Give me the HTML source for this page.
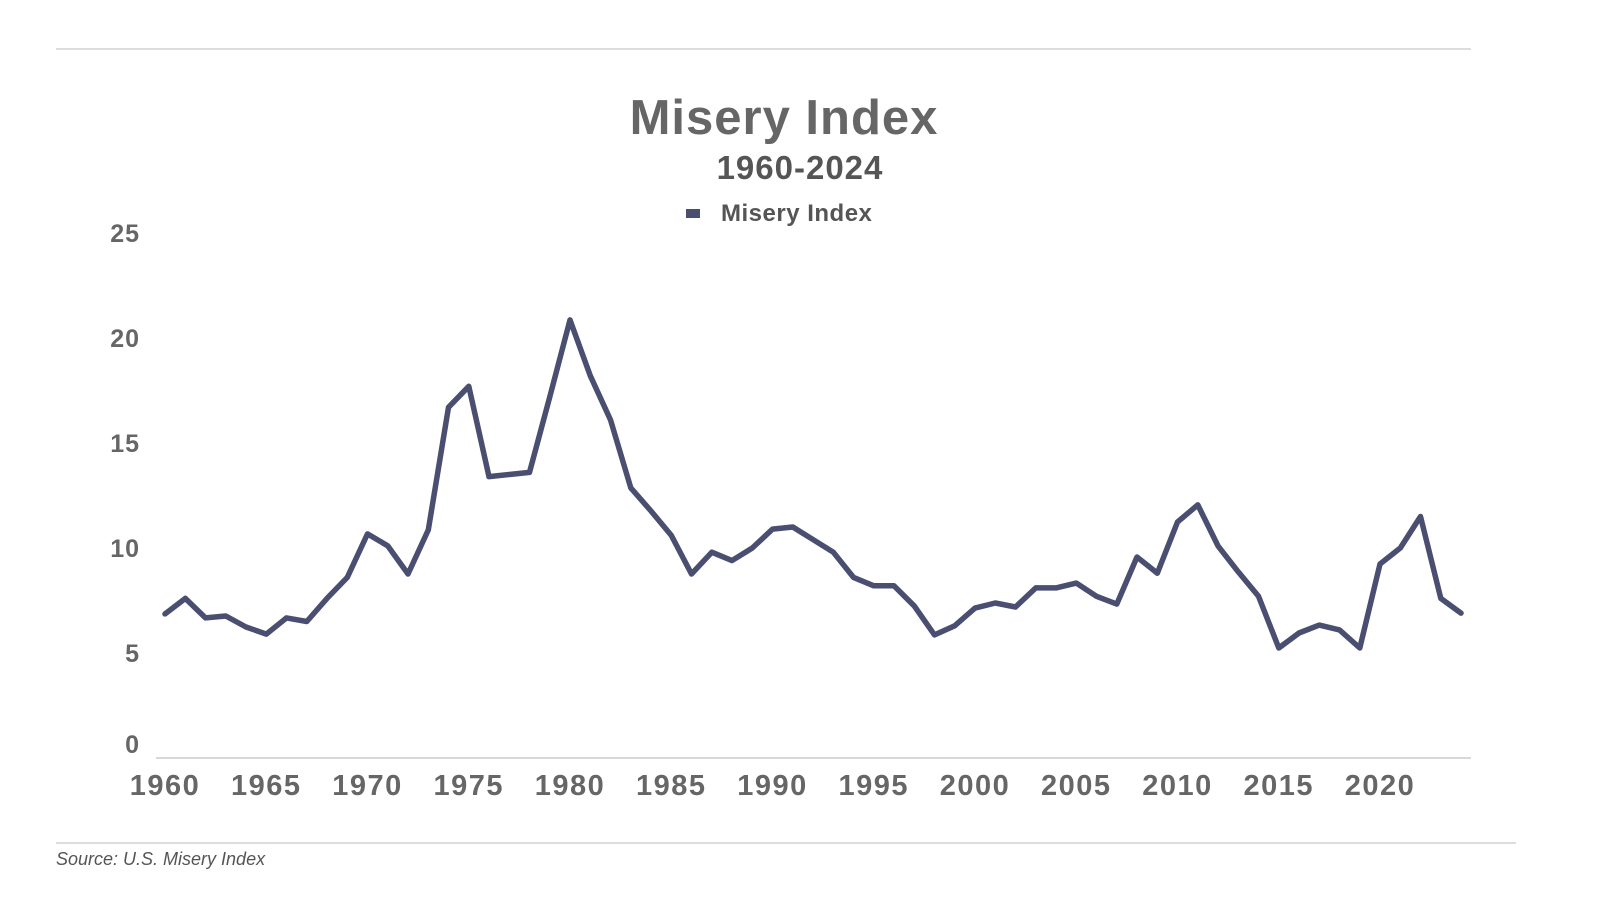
<!DOCTYPE html>
<html><head><meta charset="utf-8"><style>
body{margin:0;background:#fff;}
svg{display:block;font-family:"Liberation Sans",sans-serif;}
</style></head><body>
<svg width="1600" height="900" viewBox="0 0 1600 900">
<line x1="56" y1="49" x2="1471" y2="49" stroke="#bbb" stroke-width="1"/>
<text x="784" y="134" text-anchor="middle" font-size="49" font-weight="bold" letter-spacing="1" fill="#666">Misery Index</text>
<text x="800" y="179" text-anchor="middle" font-size="33" font-weight="bold" letter-spacing="1" fill="#555">1960-2024</text>
<g>
<rect x="686" y="209" width="14" height="9" fill="#4a4e70"/>
<text x="721" y="221" font-size="24" font-weight="bold" letter-spacing="0.5" fill="#555">Misery Index</text>
</g>
<g id="yaxis"></g>
<g id="xaxis"></g>
<line x1="156" y1="758" x2="1471" y2="758" stroke="#ccc" stroke-width="1.5"/>
<path id="series" fill="none" stroke="#4a4e70" stroke-width="5.5" stroke-linejoin="round" stroke-linecap="round"/>
<line x1="56" y1="843" x2="1516" y2="843" stroke="#bbb" stroke-width="1"/>
<text x="56" y="865" font-size="18" font-style="italic" fill="#555">Source: U.S. Misery Index</text>
</svg>
<script>
const startYear = 1960;
const values = [6.86,7.6,6.67,6.76,6.24,5.9,6.67,6.5,7.6,8.6,10.67,10.1,8.76,10.86,16.7,17.7,13.4,13.5,13.6,17.2,20.86,18.2,16.1,12.86,11.76,10.6,8.76,9.8,9.4,10.0,10.9,11.0,10.4,9.8,8.6,8.2,8.2,7.24,5.86,6.3,7.14,7.38,7.19,8.1,8.1,8.33,7.7,7.33,9.57,8.8,11.24,12.05,10.1,8.86,7.7,5.24,5.95,6.33,6.1,5.24,9.24,10.0,11.5,7.6,6.9];
const yTicks = [0,5,10,15,20,25];
const xTicks = [1960,1965,1970,1975,1980,1985,1990,1995,2000,2005,2010,2015,2020];
const ns = "http://www.w3.org/2000/svg";
function xs(year){return 165 + (year-1960)*(1380-165)/60;}
function ys(v){return 758 - v*21;}
const ya = document.getElementById('yaxis');
yTicks.forEach(t=>{
  const el=document.createElementNS(ns,'text');
  
  
  el.setAttribute('x',140);
  el.setAttribute('y',(t===0?ys(t)-5:ys(t)+9));
  el.setAttribute('text-anchor','end');
  el.setAttribute('font-size','25');
  el.setAttribute('font-weight','bold');
  el.setAttribute('letter-spacing','1');
  el.setAttribute('fill','#666');
  el.textContent=t;
  ya.appendChild(el);
});
const xa = document.getElementById('xaxis');
xTicks.forEach(t=>{
  const el=document.createElementNS(ns,'text');
  
  
  el.setAttribute('x',xs(t));
  el.setAttribute('y',795);
  el.setAttribute('text-anchor','middle');
  el.setAttribute('font-size','29');
  el.setAttribute('font-weight','bold');
  el.setAttribute('letter-spacing','1.5');
  el.setAttribute('fill','#666');
  el.textContent=t;
  xa.appendChild(el);
});
document.getElementById('series').setAttribute('d', values.map((v,i)=>(i?'L':'M')+xs(startYear+i).toFixed(1)+' '+ys(v).toFixed(1)).join(' '));
</script>
</body></html>
